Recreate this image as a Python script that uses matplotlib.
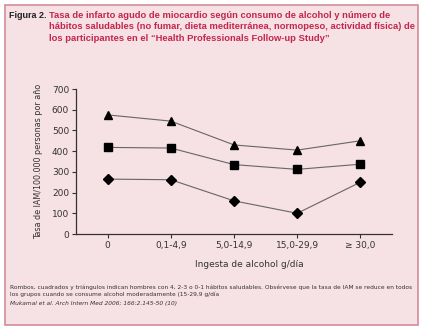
import matplotlib.pyplot as plt
from matplotlib.patches import Rectangle

categorias = ['0', '0,1-4,9', '5,0-14,9', '15,0-29,9', '≥ 30,0']
triangulos = [575, 545, 430, 405, 450]   # 0-1 hábitos saludables
cuadrados = [418, 415, 335, 312, 337]    # 2-3 hábitos
rombos = [265, 262, 160, 100, 250]       # 4 hábitos

fondo = '#f6e1e5'
rojo = '#c4264b'

fig = plt.figure(figsize=(4.22, 3.30), dpi=100)
fig.patch.set_facecolor('white')
fig.patches.append(Rectangle((5 / 422, 1 - 325 / 330), 413 / 422, 320 / 330,
                             transform=fig.transFigure, facecolor=fondo,
                             edgecolor='#d48c99', linewidth=1.2, zorder=-5))

# Titulo
fig.text(9 / 422, 1 - 11 / 330, 'Figura 2.', fontsize=6.5, fontweight='bold',
         color='#222222', va='top', family='Liberation Sans')
titulo = ('Tasa de infarto agudo de miocardio según consumo de alcohol y número de\n'
          'hábitos saludables (no fumar, dieta mediterránea, normopeso, actividad física) de\n'
          'los participantes en el “Health Professionals Follow-up Study”')
fig.text(49 / 422, 1 - 11 / 330, titulo, fontsize=6.75, fontweight='bold', color=rojo,
         va='top', linespacing=1.35, family='Liberation Sans')

ax = fig.add_axes([76 / 422, 1 - 234 / 330, (392 - 76) / 422, (234 - 89) / 330])
ax.set_facecolor(fondo)
x = list(range(len(categorias)))
ax.plot(x, triangulos, color='#666666', lw=0.8, marker='^', ms=6, mfc='black', mec='black')
ax.plot(x, cuadrados, color='#666666', lw=0.8, marker='s', ms=5.5, mfc='black', mec='black')
ax.plot(x, rombos, color='#666666', lw=0.8, marker='D', ms=5, mfc='black', mec='black')

ax.set_xlim(-0.5, 4.5)
ax.set_ylim(0, 700)
ax.set_yticks(range(0, 701, 100))
ax.set_xticks(x)
ax.set_xticklabels(categorias)
ax.spines['top'].set_visible(False)
ax.spines['right'].set_visible(False)
for s in ('left', 'bottom'):
    ax.spines[s].set_color('#333333')
    ax.spines[s].set_linewidth(0.9)
ax.tick_params(labelsize=6.5, colors='#333333', length=3, width=0.8, pad=2)
ax.set_xlabel('Ingesta de alcohol g/día', fontsize=6.5, color='#333333')
ax.xaxis.set_label_coords(0.55, -0.18)
ax.set_ylabel('Tasa de IAM/100.000 personas por año', fontsize=5.8, color='#333333', labelpad=6)

nota = ('Rombos, cuadrados y triángulos indican hombres con 4, 2-3 o 0-1 hábitos saludables. Obsérvese que la tasa de IAM se reduce en todos\n'
        'los grupos cuando se consume alcohol moderadamente (15-29,9 g/día')
t_nota = fig.text(10 / 422, 1 - 284 / 330, nota, fontsize=4.4, color='#333333', va='top',
                  linespacing=1.4)
t_ref = fig.text(10 / 422, 1 - 301 / 330, 'Mukamal et al. Arch Intern Med 2006; 166:2.145-50 (10)',
                 fontsize=4.4, style='italic', color='#333333', va='top')

# ajustar el tamaño de la nota para que ocupe ~400 px de ancho
r = fig.canvas.get_renderer()
ancho = t_nota.get_window_extent(r).width
fs = 4.4 * 400 / ancho
t_nota.set_fontsize(fs)
t_ref.set_fontsize(fs)

fig.savefig('out.png', dpi=100, facecolor=fig.get_facecolor())
